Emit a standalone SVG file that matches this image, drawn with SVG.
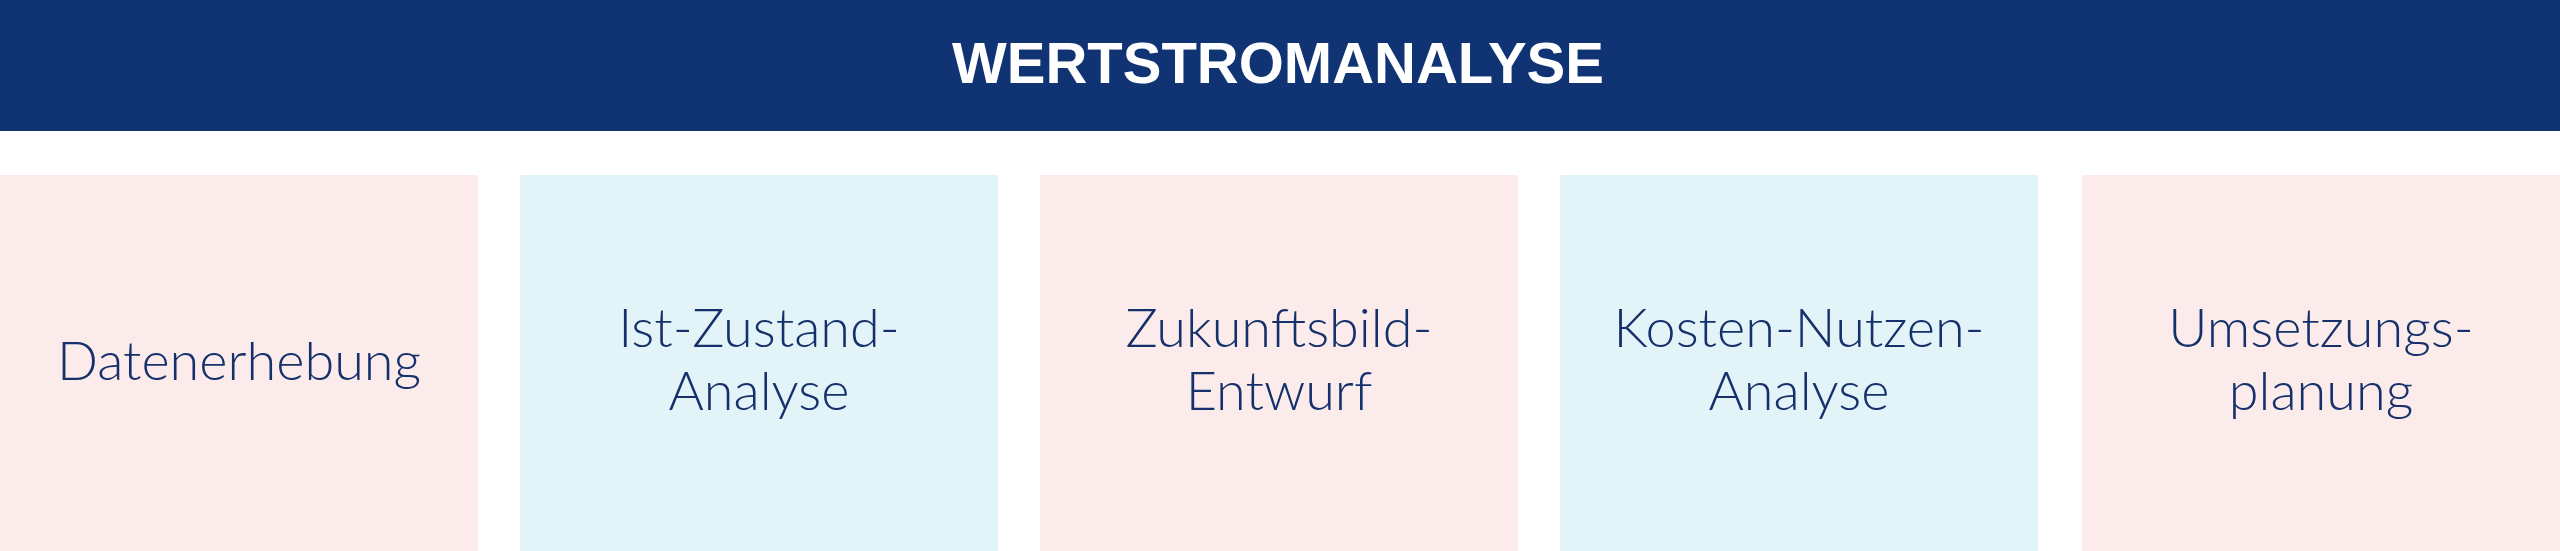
<svg xmlns="http://www.w3.org/2000/svg" width="2560" height="551" viewBox="0 0 2560 551">
<style>
.hdr{fill:#0f3373}
.pink{fill:#fbeceb}
.blue{fill:#e3f4f8}
.title{font-family:"Liberation Sans",Arial,sans-serif;font-weight:700;font-size:58px;fill:#ffffff;text-anchor:middle}
.lbl{font-family:Lato,"Liberation Sans",sans-serif;font-weight:300;font-size:54px;fill:#15306b;text-anchor:middle}
</style>
<rect width="2560" height="551" fill="#ffffff"/>
<g id="header">
<rect class="hdr" x="0" y="0" width="2560" height="131"/>
<text class="title" x="1278" y="83">WERTSTROMANALYSE</text>
</g>
<g id="datenerhebung">
<rect class="pink" x="0" y="175" width="478" height="376"/>
<text class="lbl" x="239" y="380">Datenerhebung</text>
</g>
<g id="ist-zustand-analyse">
<rect class="blue" x="520" y="175" width="478" height="376"/>
<text class="lbl" x="759" y="347">Ist-Zustand-</text>
<text class="lbl" x="759" y="410">Analyse</text>
</g>
<g id="zukunftsbild-entwurf">
<rect class="pink" x="1040" y="175" width="478" height="376"/>
<text class="lbl" x="1279" y="347">Zukunftsbild-</text>
<text class="lbl" x="1279" y="410">Entwurf</text>
</g>
<g id="kosten-nutzen-analyse">
<rect class="blue" x="1560" y="175" width="478" height="376"/>
<text class="lbl" x="1799" y="347">Kosten-Nutzen-</text>
<text class="lbl" x="1799" y="410">Analyse</text>
</g>
<g id="umsetzungsplanung">
<rect class="pink" x="2082" y="175" width="478" height="376"/>
<text class="lbl" x="2321" y="347">Umsetzungs-</text>
<text class="lbl" x="2321" y="410">planung</text>
</g>
<g id="connectors"></g>
</svg>
